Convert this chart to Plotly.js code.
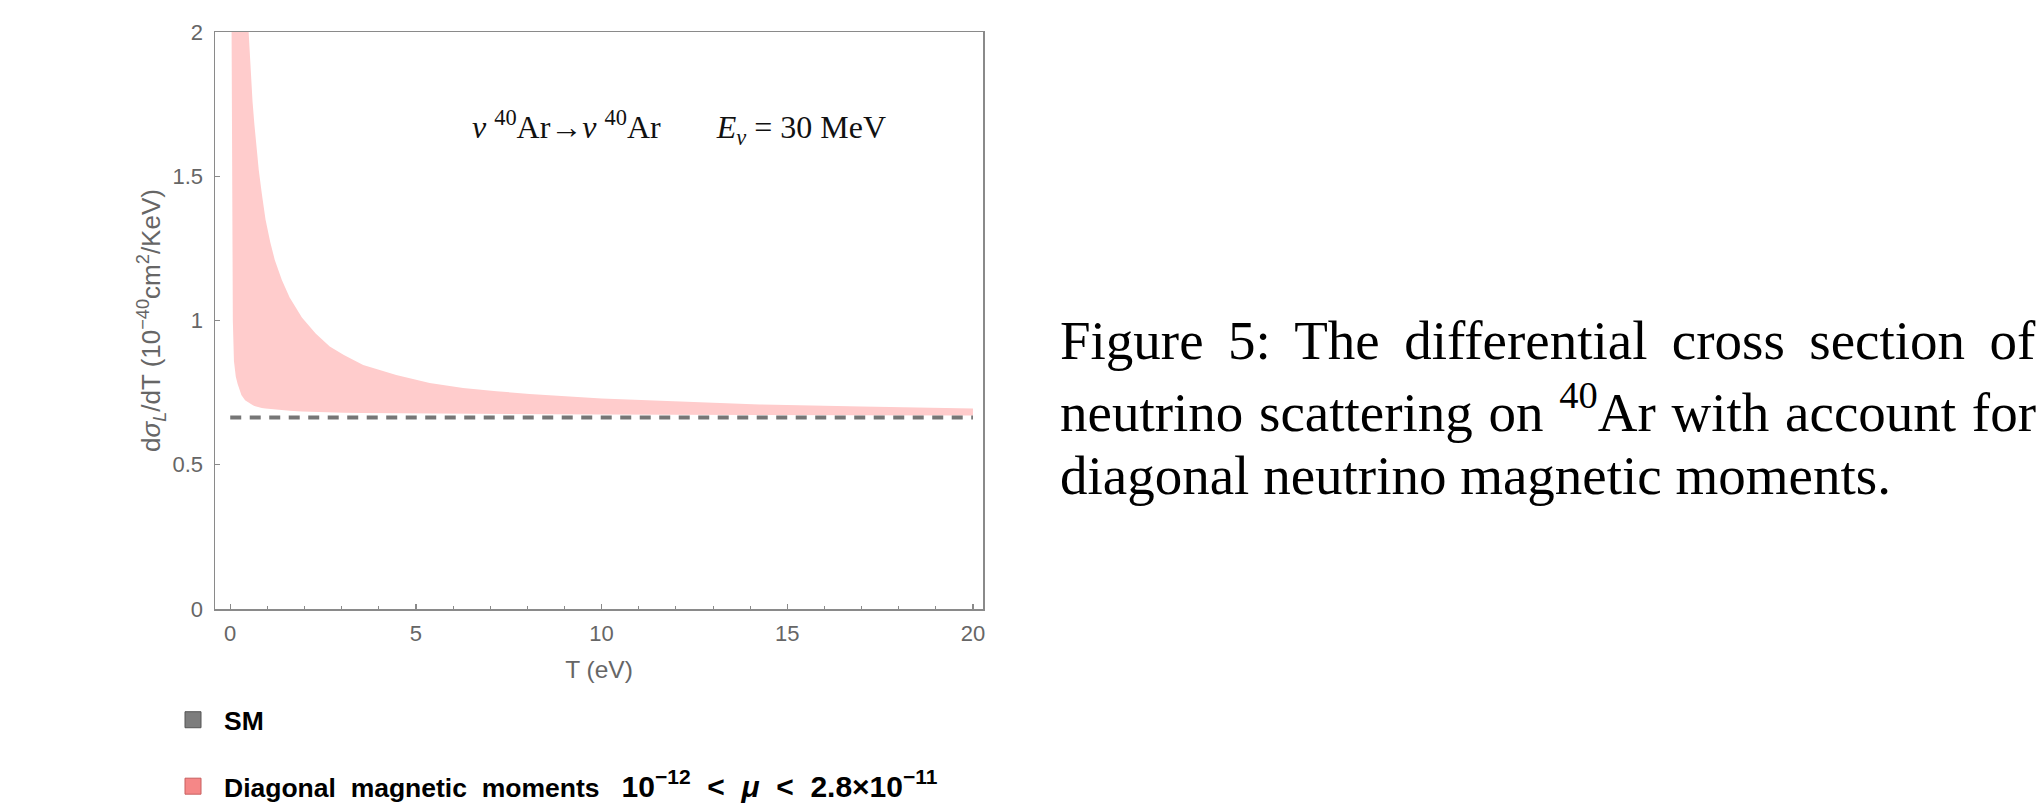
<!DOCTYPE html>
<html>
<head>
<meta charset="utf-8">
<script src="https://cdn.plot.ly/plotly-3.0.1.min.js"></script>
<style>
  html, body { margin: 0; padding: 0; background: #fff; }
  #chart { width: 2038px; height: 808px; }
</style>
</head>
<body>
<div id="chart"></div>
<script>
// ---- data ----
const T = [0.03, 0.05, 0.07, 0.1, 0.15, 0.2, 0.3, 0.4, 0.5, 0.55, 0.6, 0.65, 0.7, 0.77, 0.85, 0.95, 1.08, 1.2, 1.39, 1.6, 1.93, 2.3, 2.68, 3.06, 3.58, 4.47, 5.37, 6.27, 7.17, 8.06, 10, 12, 14.25, 17, 19.55, 20];
const upperMu = [5.0, 3.6, 3.1, 2.9, 2.7, 2.55, 2.4, 2.25, 1.99, 1.86, 1.76, 1.68, 1.60, 1.52, 1.44, 1.35, 1.27, 1.21, 1.14, 1.08, 1.01, 0.955, 0.91, 0.88, 0.846, 0.811, 0.783, 0.766, 0.755, 0.745, 0.730, 0.719, 0.709, 0.702, 0.696, 0.695];
const lowerMu = [2.2, 1.5, 1.0, 0.86, 0.805, 0.78, 0.742, 0.724, 0.714, 0.71, 0.707, 0.704, 0.702, 0.699, 0.697, 0.695, 0.693, 0.691, 0.689, 0.687, 0.685, 0.683, 0.681, 0.680, 0.679, 0.678, 0.677, 0.676, 0.675, 0.675, 0.674, 0.673, 0.672, 0.672, 0.671, 0.671];
const smT = [0, 20];
const smY = [0.664, 0.664];

const xTickVals = [0, 5, 10, 15, 20];
const xTickText = ['0', '5', '10', '15', '20'];
const yTickVals = [0, 0.5, 1, 1.5, 2];
const yTickText = ['0', '0.5', '1', '1.5', '2'];

const legendNames = ['SM', 'Diagonal&nbsp; magnetic&nbsp; moments&nbsp;&nbsp; <span style="font-size:30px">10<sup>−12</sup>&nbsp;&nbsp;&lt;&nbsp;&nbsp;<i>μ</i>&nbsp;&nbsp;&lt;&nbsp;&nbsp;2.8×10<sup>−11</sup></span>'];
const captionLines = [
  'Figure 5: The differential cross section of',
  'neutrino scattering on <sup>40</sup>Ar with account for',
  'diagonal neutrino magnetic moments.'
];
const plotLabel = '<i>ν</i> <sup>40</sup>Ar→<i>ν</i> <sup>40</sup>Ar&nbsp;&nbsp;&nbsp;&nbsp;&nbsp;&nbsp;&nbsp;<i>E<sub>ν</sub></i> = 30 MeV';

// ---- styles ----
const SANS = 'Liberation Sans, Arial, sans-serif';
const SERIF = 'Liberation Serif, Times New Roman, serif';
const bandColor = 'rgb(255,204,204)';
const smColor = 'rgb(118,118,118)';
const axisColor = '#8a8a8a';
const labelColor = '#666666';

const traces = [
  { x: T, y: lowerMu, type: 'scatter', mode: 'lines', line: { width: 0, color: bandColor }, showlegend: false, hoverinfo: 'skip' },
  { x: T, y: upperMu, type: 'scatter', mode: 'lines', line: { width: 0, color: bandColor }, fill: 'tonexty', fillcolor: bandColor, showlegend: false, hoverinfo: 'skip' },
  { x: smT, y: smY, type: 'scatter', mode: 'lines', line: { color: smColor, width: 4, dash: '11px,8.5px' }, showlegend: false, hoverinfo: 'skip' },
  { x: [null], y: [null], type: 'scatter', mode: 'markers', name: legendNames[0], legendgroup: 'g1',
    marker: { symbol: 'square', size: 16, color: 'rgb(125,125,125)', line: { color: 'rgb(85,85,85)', width: 1 } } },
  { x: [null], y: [null], type: 'scatter', mode: 'markers', name: legendNames[1], legendgroup: 'g2',
    marker: { symbol: 'square', size: 16, color: 'rgb(245,135,135)', line: { color: 'rgb(200,95,95)', width: 1 } } }
];

const px2x = px => (px - 215) / 768;
const px2y = py => (609 - py) / 577;

const annotations = [
  { xref: 'paper', yref: 'paper', x: px2x(679), y: px2y(127), xanchor: 'center', yanchor: 'middle',
    text: plotLabel, showarrow: false, font: { family: SERIF, size: 32, color: '#111' } }
];
const capY = [341, 408, 475];
captionLines.forEach((t, i) => {
  annotations.push({ xref: 'paper', yref: 'paper', x: px2x(1058), y: px2y(capY[i]), xanchor: 'left', yanchor: 'middle', align: 'left',
    text: t, showarrow: false, font: { family: SERIF, size: 55, color: '#000' } });
});

const layout = {
  width: 2038, height: 808,
  margin: { l: 215, r: 1055, t: 32, b: 199, autoexpand: false },
  paper_bgcolor: '#ffffff', plot_bgcolor: '#ffffff',
  showlegend: true,
  legend: {
    x: px2x(162), y: px2y(696), xanchor: 'left', yanchor: 'top',
    orientation: 'v', itemwidth: 52, tracegroupgap: 29, bgcolor: 'rgba(0,0,0,0)',
    font: { family: SANS, size: 26.5, color: '#000', weight: 'bold' }
  },
  xaxis: {
    range: [-0.41, 20.27], showgrid: false, zeroline: false,
    showline: true, mirror: true, linecolor: axisColor, linewidth: 1.5,
    tickmode: 'array', tickvals: xTickVals, ticktext: xTickText,
    ticks: 'inside', ticklen: 5, tickwidth: 1.2, tickcolor: axisColor,
    minor: { tickmode: 'linear', tick0: 0, dtick: 1, ticks: 'inside', ticklen: 3, tickwidth: 1, tickcolor: axisColor },
    tickfont: { family: SANS, size: 22, color: labelColor },
    ticklabelstandoff: 4,
    title: { text: 'T (eV)', font: { family: SANS, size: 24.5, color: labelColor }, standoff: 16 }
  },
  yaxis: {
    range: [0, 2], showgrid: false, zeroline: false,
    showline: true, mirror: true, linecolor: axisColor, linewidth: 1.5,
    tickmode: 'array', tickvals: yTickVals, ticktext: yTickText,
    ticks: 'inside', ticklen: 5, tickwidth: 1.2, tickcolor: axisColor,
    tickfont: { family: SANS, size: 22, color: labelColor },
    ticklabelstandoff: 6,
    title: { text: 'd<i>σ<sub>L</sub></i>/dT (10<sup>−40</sup>cm<sup>2</sup>/KeV)', font: { family: SANS, size: 26, color: labelColor }, standoff: 4 }
  },
  annotations: annotations
};

Plotly.newPlot('chart', traces, layout, { staticPlot: true, displayModeBar: false }).then(gd => {
  // justify the first two caption lines (LaTeX-style full justification)
  const targets = [976, 976];
  const anns = gd.querySelectorAll('.annotation');
  [1, 2].forEach((idx, k) => {
    const g = anns[idx];
    if (!g) return;
    const txt = g.querySelector('text.annotation-text');
    if (!txt) return;
    const n = (txt.textContent.match(/ /g) || []).length;
    if (!n) return;
    let ws = 0;
    for (let it = 0; it < 4; it++) {
      const w = txt.getBBox().width;
      ws += (targets[k] - w) / n;
      txt.style.wordSpacing = ws + 'px';
    }
  });
});
</script>
</body>
</html>
